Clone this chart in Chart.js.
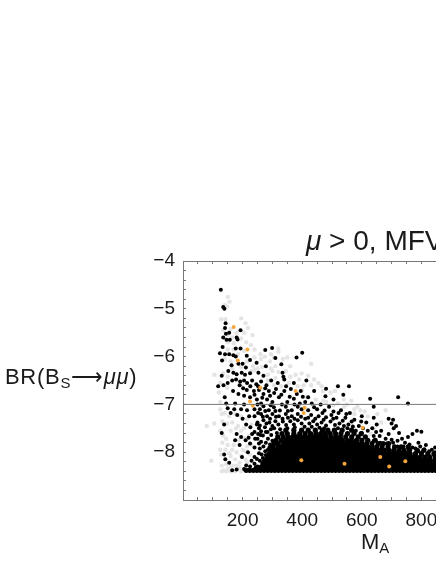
<!DOCTYPE html>
<html>
<head>
<meta charset="utf-8">
<script src="https://cdn.jsdelivr.net/npm/chart.js@4"></script>
<style>
  html, body { margin: 0; background: #fff; overflow: hidden; width: 436px; height: 564px; }
  #wrap { position: relative; width: 436px; height: 564px; overflow: hidden; }
  canvas { position: absolute; left: 0; top: 0; }
  .lab { position: absolute; font-family: "Liberation Sans", Arial, sans-serif; color: #1a1a1a; white-space: nowrap; line-height: 1; }
  .lab sub { font-size: 68%; vertical-align: baseline; position: relative; top: 4px; }
</style>
</head>
<body>
<div id="wrap">
  <canvas id="c" width="500" height="564"></canvas>
  <div class="lab" style="left:306px;top:227px;font-size:28px"><i>μ</i> &gt; 0, MFV</div>
  <div class="lab" style="left:5px;top:366px;font-size:22px;letter-spacing:0.7px">BR(B<sub>S</sub>⟶<i>μμ</i>)</div>
  <div class="lab" style="left:361px;top:531px;font-size:22px">M<sub>A</sub></div>
</div>
<script>
// tick labels
const xTickLabels = [200, 400, 600, 800];
const yTickLabels = [-4, -5, -6, -7, -8];

// reference line
const refLine = [[0, -7], [1000, -7]];

// orange points
const orangePts = [[170,-5.38],[216,-5.85],[184,-6.08],[259,-6.65],[378,-6.72],[225,-6.94],[234,-7.03],[408,-7.07],[405,-7.18],[603,-7.49],[397,-8.17],[542,-8.24],[662,-8.1],[692,-8.3],[746,-8.19]];

// black points read one by one, upper part
const blackUpper = [[127,-4.6],[135,-4.96],[139,-5],[143,-5.3],[141,-5.4],[193,-5.45],[155,-5.5],[144,-5.52],[135,-5.6],[180,-5.6],[146,-5.65],[157,-5.65],[183,-5.64],[133,-5.8],[177,-5.83],[193,-5.83],[276,-5.86],[299,-5.82],[400,-5.92],[381,-6.02],[310,-6.03],[124,-5.93],[141,-5.95],[155,-5.95],[169,-5.97],[177,-6],[214,-5.98],[131,-6.08],[163,-6.18],[186,-6.15],[200,-6.15],[225,-6.07],[211,-6.23],[247,-6.13],[278,-6.2],[330,-6.16],[130,-6.4],[152,-6.3],[169,-6.34],[180,-6.37],[197,-6.34],[208,-6.38],[225,-6.35],[253,-6.34],[270,-6.4],[334,-6.34],[337,-6.42],
[118,-6.62],[136,-6.6],[150,-6.55],[165,-6.5],[178,-6.48],[192,-6.52],[205,-6.5],[215,-6.55],[232,-6.5],[246,-6.58],[262,-6.52],[280,-6.6],[296,-6.5],[318,-6.55],[340,-6.48],[372,-6.55],[414,-6.5],[480,-6.67],[520,-6.62],[557,-6.62],[538,-6.8],[505,-6.9],[478,-6.83],[440,-6.72],[420,-6.85],[395,-6.72],[362,-6.68],[340,-6.72],[312,-6.68],[288,-6.72],[270,-6.78],[255,-6.7],[238,-6.72],[205,-6.82],[186,-6.78],[168,-6.72],[140,-6.85],[145,-6.98],[175,-6.98],[205,-7],[225,-6.85],[248,-6.9],[262,-6.98],[282,-6.9],[300,-6.95],[322,-6.85],[350,-6.95],[372,-6.88],[392,-6.98],[410,-6.95],[432,-6.98],[462,-7],[490,-7.05],[628,-6.88],[640,-7.05],[722,-6.85],[755,-6.98],
[150,-7.08],[172,-7.1],[195,-7.1],[215,-7.12],[240,-7.1],[270,-7.04],[288,-7.12],[305,-7.06],[325,-7.13],[345,-7.05],[365,-7.12],[385,-7.05],[420,-7.12],[450,-7.1],[475,-7.13],[505,-7.15],[530,-7.12],[560,-7.18],[600,-7.25],[640,-7.28],[690,-7.3],[705,-7.32],[138,-7.42],[240,-7.25],[262,-7.2],[282,-7.25],[300,-7.2],[322,-7.25],[345,-7.2],[365,-7.25],[385,-7.2],[430,-7.22],[455,-7.25],[480,-7.27],[515,-7.28],[545,-7.28],[575,-7.32],[615,-7.38],[650,-7.42],[700,-7.4],[707,-7.5],[715,-7.45],[785,-7.55],[800,-7.57],[770,-7.62],[755,-7.68],
[250,-7.38],[270,-7.33],[290,-7.38],[310,-7.35],[335,-7.36],[360,-7.35],[385,-7.33],[410,-7.3],[437,-7.35],[465,-7.38],[495,-7.36],[525,-7.4],[555,-7.42],[590,-7.45],[635,-7.5],[665,-7.55],[725,-7.6],[735,-7.72],[180,-7.62],[195,-7.68],[210,-7.75],[240,-7.58],[255,-7.5],[275,-7.48],[295,-7.52],[225,-7.82],[250,-7.72],[268,-7.65],[285,-7.72],[240,-7.9],[255,-7.82],[270,-7.88],[285,-7.95],[198,-8.1],[218,-8],[230,-8.18],[240,-8.1],[255,-8.02],[268,-8.12],[138,-8.05],[142,-8.15],[155,-8.22],[165,-8.38],[180,-8.36],[205,-8.35],[212,-8.28],[225,-8.3],[240,-8.24],[130,-7.6],[190,-7.85],[175,-7.75],[680,-7.72],[705,-7.8],[745,-7.8],[790,-7.8],[815,-7.85],[835,-7.95],[770,-7.9],[720,-7.88]];

// more black points, between -6.6 and -7.7 where the cloud thickens
const blackMiddle = [[190,-6.6],[202,-6.66],[214,-6.7],[226,-6.62],[240,-6.8],[252,-6.62],[266,-6.86],[276,-6.66],[292,-6.82],[306,-6.76],[330,-6.8],[346,-6.62],[358,-6.84],[382,-6.78],[402,-6.84],[250,-7],[258,-7.1],[276,-7.14],[294,-7.02],[310,-7.14],[332,-7],[352,-7.14],[374,-7],[398,-7.1],[440,-7.06],[468,-7.18],[498,-7.22],[522,-7.18],[548,-7.2],[252,-7.18],[268,-7.26],[292,-7.3],[312,-7.26],[334,-7.3],[352,-7.28],[374,-7.3],[396,-7.26],[420,-7.28],[444,-7.3],[472,-7.32],[504,-7.3],[536,-7.34],[566,-7.36],[598,-7.36],[258,-7.44],[280,-7.4],[300,-7.45],[320,-7.42],[346,-7.43],[372,-7.42],[398,-7.4],[424,-7.4],[450,-7.42],[480,-7.44],[510,-7.43],[540,-7.45],[570,-7.46],[604,-7.5],[620,-7.55],[648,-7.58],[262,-7.56],[284,-7.58],[306,-7.5],[326,-7.52],[350,-7.5],[375,-7.48],[408,-7.47],[432,-7.47],[458,-7.49],[474,-7.5],[520,-7.5],[552,-7.5],[580,-7.55],[600,-7.6],[640,-7.66],[660,-7.66],[690,-7.62],[260,-7.64],[278,-7.58],[296,-7.64],[315,-7.6],[252,-7.62],[242,-7.72],[262,-7.78],[278,-7.8],[292,-7.84],[300,-7.76],[258,-7.92],[276,-7.98],[290,-7.9],[264,-8.05],[278,-8.06],[248,-8.14],[258,-8.18],[270,-8.2],[244,-8.32],[220,-7.7],[232,-7.62],[248,-7.42],[226,-7.48],[212,-7.42],[200,-7.3],[182,-7.22],[160,-7.18],[222,-7.25],[640,-7.76],[662,-7.8],[684,-7.82],[700,-7.74],[720,-7.76],[740,-7.88],[760,-7.84],[780,-7.92],[796,-7.88],[810,-7.94],[826,-7.98],[845,-8],[790,-7.98],[820,-8.04],[846,-7.9]];

// black points in the dense band, row by row
const blackRowY = [-8.38, -8.31, -8.24, -8.17, -8.1, -8.03, -7.96, -7.89, -7.82, -7.75, -7.68, -7.61, -7.54];
const blackRowX = [
  [212,224,236,248,260,272,284,296,308,320,332,344,356,368,380,392,404,416,428,440,452,464,476,488,500,512,524,536,548,560,572,584,596,608,620,632,644,656,668,680,692,704,716,728,740,752,764,776,788,800,812,824,836,848,860],
  [250,262,274,286,298,310,322,334,346,358,370,382,394,406,418,430,442,454,466,478,490,502,514,526,538,550,562,574,586,598,610,622,634,646,658,670,682,694,706,718,730,742,754,766,778,790,802,814,826,838,850],
  [268,280,292,304,316,328,340,352,364,376,388,400,412,424,436,448,460,472,484,496,508,520,532,544,556,568,580,592,604,616,628,640,652,664,676,688,700,712,724,736,748,760,772,784,796,808,820,832,844,856],
  [276,288,300,312,324,336,348,360,372,384,396,408,420,432,444,456,468,480,492,504,516,528,540,552,564,576,588,600,612,624,636,648,660,672,684,696,708,720,732,744,756,768,780,792,805,818,830,845],
  [282,296,308,320,332,344,356,368,380,392,404,416,428,440,452,464,476,488,500,512,524,536,548,560,572,584,596,608,620,632,644,656,668,680,692,704,716,728,742,755,770,782,796,812,828,846],
  [290,303,315,327,339,351,363,375,387,399,411,423,435,447,459,471,483,495,507,519,531,543,555,567,579,591,603,615,627,639,651,663,677,690,704,718,733,748,762,780,800,822,842],
  [296,310,322,334,346,358,370,382,394,406,418,430,442,454,466,478,490,502,514,526,538,550,562,574,586,598,610,622,636,648,662,676,692,708,725,742,760,786,808],
  [302,318,330,342,354,366,378,390,402,414,426,438,450,462,474,486,498,510,522,534,546,558,570,582,594,606,620,634,650,668,688,710,732,756],
  [305,320,338,350,362,374,386,398,410,422,434,446,458,470,482,494,506,518,530,544,558,572,586,600,616,634,655,672,690],
  [312,330,346,360,372,384,396,408,420,432,444,456,468,480,492,506,520,534,550,565,582,600,620,645],
  [318,336,352,368,382,396,410,424,438,452,466,480,496,512,528,546,566,588,612],
  [332,350,372,392,410,428,446,462,478,494,512,530,552,574,598],
  [345,372,398,420,444,468,486,508,534,566]
];

// gray points behind the black ones
const grayPts = [[150,-4.75],[156,-4.85],[140,-4.92],[136,-4.95],[148,-4.95],[128,-5.22],[142,-5.22],[195,-5.2],[210,-5.3],[218,-5.4],[160,-5.42],[180,-5.5],[205,-5.5],[233,-5.55],[195,-5.62],[150,-5.7],[170,-5.72],[212,-5.7],[228,-5.76],[320,-5.83],[150,-5.85],[205,-5.88],[240,-5.85],[260,-5.95],[275,-6],[295,-5.95],[320,-5.9],[350,-6.02],[430,-6.15],[140,-6.05],[105,-6.38],[160,-6.1],[195,-6.22],[235,-6.2],[262,-6.05],[292,-6.1],[310,-6.2],[345,-6.3],[378,-6.38],[398,-6.35],[420,-6.4],[300,-6.3],[285,-6.38],[240,-6.28],[125,-6.55],[120,-6.75],[125,-6.95],[148,-6.65],[195,-6.6],[225,-6.62],[270,-6.68],[305,-6.6],[330,-6.62],[355,-6.55],[385,-6.62],[405,-6.6],[430,-6.6],[455,-6.55],[470,-6.72],[495,-6.75],[125,-7.1],[130,-7.2],[140,-7.18],[155,-7.25],[175,-7.2],[195,-7.25],[215,-7.3],[230,-7.42],[415,-6.85],[445,-6.9],[470,-6.92],[520,-6.98],[550,-7],[585,-7.05],[610,-7.15],[575,-7.2],[105,-7.4],[125,-7.55],[135,-7.65],[145,-7.72],[160,-7.55],[185,-7.45],[205,-7.5],[222,-7.65],[150,-7.85],[165,-7.95],[180,-8],[200,-7.95],[215,-7.88],[230,-7.85],[125,-7.95],[128,-8.05],[95,-8.18],[130,-8.28],[135,-8.38],[150,-8.35],[170,-8.28],[190,-8.22],[210,-8.15],[175,-8.15],[160,-8.08],[190,-8.32],[130,-8.4],[145,-8.4],[160,-8.4],[175,-8.4],[195,-8.4],[80,-7.45],[640,-7.5],[665,-7.38],[680,-7.12],[630,-7.62],[575,-7.52],[545,-7.5],[530,-7.6],[600,-7.7],[620,-7.68],
[132,-7.35],[148,-7.4],[165,-7.38],[178,-7.5],[195,-7.55],[132,-7.8],[142,-7.95],[155,-8.02],[170,-7.85],[185,-7.75],[205,-7.7],[210,-7.98],[225,-8.05],[195,-8.08],[180,-8.28],[160,-8.3],[145,-8.25],[215,-8.22],[135,-6.35],[150,-6.42],[165,-6.25],[215,-6.1],[230,-6.3],[250,-6.25],[265,-6.22],[295,-6.25],[320,-6.32],[335,-6.05],[360,-6.2],[285,-6.5],[310,-6.45],[360,-6.42],[390,-6.48],[440,-6.48],[465,-6.62],[510,-6.72],[540,-6.9],[565,-6.92],[595,-7.12],[620,-7.25],[652,-7.2],[170,-5.85],[185,-5.95],[135,-5.45],[150,-5.55],[165,-5.6],[240,-6.02],[305,-6.02],[400,-6.7],[480,-6.95],[505,-7.02],[540,-7.06],[575,-7.1]];

function toPts(list) { return list.map(p => ({ x: p[0], y: p[1] })); }

// rows -> points
const bandPts = [];
blackRowY.forEach((y, i) => blackRowX[i].forEach(x => bandPts.push({ x: x, y: y })));

const axisColor = "#777";
const tickFont = { family: "'Liberation Sans', Arial, sans-serif", size: 19 };

new Chart(document.getElementById("c").getContext("2d"), {
  type: "scatter",
  data: {
    datasets: [
      { label: "gray", data: toPts(grayPts), backgroundColor: "#e4e4e4", pointRadius: 2.2, pointBorderWidth: 0, order: 5 },
      { label: "black", data: toPts(blackUpper).concat(toPts(blackMiddle)), backgroundColor: "#000", pointRadius: 2, pointBorderWidth: 0, order: 4 },
      { label: "band", data: bandPts, backgroundColor: "#000", pointRadius: 2.6, pointBorderWidth: 0, order: 3 },
      { label: "orange", data: toPts(orangePts), backgroundColor: "#f7a63c", pointRadius: 2, pointBorderWidth: 0, order: 2 },
      { label: "ref", type: "line", data: toPts(refLine), borderColor: axisColor, borderWidth: 1, pointRadius: 0, order: 1 }
    ]
  },
  options: {
    responsive: false,
    animation: false,
    events: [],
    layout: { padding: { left: 0, right: 19, top: 0, bottom: 0 } },
    plugins: { legend: { display: false }, tooltip: { enabled: false }, title: { display: false } },
    scales: {
      x: {
        type: "linear", min: 0, max: 1000,
        afterFit(s) { s.height = 64; },
        border: { color: axisColor, width: 1 },
        grid: { drawOnChartArea: false, tickLength: -3, tickColor: axisColor },
        ticks: {
          stepSize: 50, autoSkip: false, maxRotation: 0, padding: 12,
          color: "#1a1a1a", font: tickFont,
          callback: v => xTickLabels.includes(v) ? String(v) : ""
        }
      },
      xTop: {
        type: "linear", position: "top", min: 0, max: 1000,
        afterFit(s) { s.height = 261; },
        border: { color: axisColor, width: 1 },
        grid: { drawOnChartArea: false, tickLength: -3, tickColor: axisColor },
        ticks: { stepSize: 50, autoSkip: false, maxRotation: 0, callback: () => "" }
      },
      y: {
        type: "linear", min: -9, max: -4,
        afterFit(s) { s.width = 183; },
        border: { color: axisColor, width: 1 },
        grid: { drawOnChartArea: false, tickLength: -3, tickColor: axisColor },
        ticks: {
          stepSize: 0.2, autoSkip: false, padding: 11,
          color: "#1a1a1a", font: tickFont,
          callback: v => yTickLabels.some(t => Math.abs(t - v) < 1e-6) ? "\u2212" + Math.abs(Math.round(v)) : ""
        }
      }
    }
  }
});
</script>
</body>
</html>
